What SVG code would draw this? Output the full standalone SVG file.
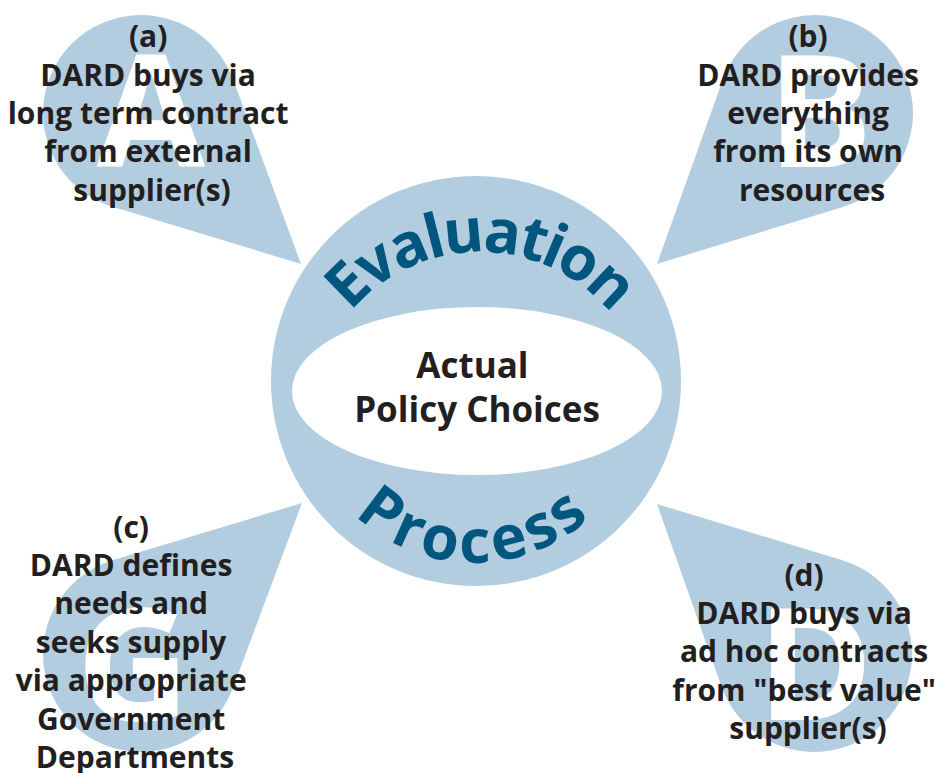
<svg xmlns="http://www.w3.org/2000/svg" width="946" height="773" viewBox="0 0 946 773">
  <style>
    .shape { fill: #b3cde0; }
    .big { font-family: "Open Sans", "Liberation Sans", sans-serif; font-weight: 700; font-size: 157px; fill: #ffffff; text-anchor: middle; }
    .lbl { font-family: "Open Sans", "Liberation Sans", sans-serif; font-weight: 700; font-size: 30px; fill: #231f20; text-anchor: middle; }
    .core { font-family: "Open Sans", "Liberation Sans", sans-serif; font-weight: 700; font-size: 35px; fill: #231f20; text-anchor: middle; }
    .ring { font-family: "Open Sans", "Liberation Sans", sans-serif; font-weight: 700; font-size: 61px; fill: #00567f; text-anchor: middle; }
  </style>
  <defs>
    <path id="arc-top" d="M310,422 A170,170 0 0 1 650,422"/>
    <path id="arc-bottom" d="M303,392 A171,171 0 0 0 645,392"/>
  </defs>

  <rect width="946" height="773" fill="#ffffff"/>

  <!-- pointers linking each option bubble to the hub -->
  <g id="connectors" class="shape">
    <polygon points="301,264 112.5,206.8 233.0,79.1"/>
    <polygon points="657,264 722.7,80.0 843.7,206.7"/>
    <polygon points="302,503 232.8,688.3 112.7,560.2"/>
    <polygon points="657,504 842.4,560.2 721.6,686.7"/>
  </g>

  <g id="option-a">
    <circle class="shape" cx="141" cy="113" r="98"/>
    <text class="big" x="151" y="167">A</text>
    <text class="lbl">
      <tspan x="152" y="47">(a)</tspan>
      <tspan x="152" y="85.5">DARD buys via</tspan>
      <tspan x="152" y="124">long term contract</tspan>
      <tspan x="152" y="162">from external</tspan>
      <tspan x="152" y="200.5">supplier(s)</tspan>
    </text>
  </g>

  <g id="option-b">
    <circle class="shape" cx="815" cy="113" r="98"/>
    <text class="big" x="820" y="167">B</text>
    <text class="lbl">
      <tspan x="812" y="47">(b)</tspan>
      <tspan x="812" y="85.5">DARD provides</tspan>
      <tspan x="812" y="124">everything</tspan>
      <tspan x="812" y="162">from its own</tspan>
      <tspan x="812" y="200.5">resources</tspan>
    </text>
  </g>

  <g id="option-c">
    <circle class="shape" cx="141" cy="654" r="98"/>
    <text class="big" x="133" y="720">G</text>
    <text class="lbl">
      <tspan x="135" y="537.5">(c)</tspan>
      <tspan x="135" y="576">DARD defines</tspan>
      <tspan x="135" y="614.3">needs and</tspan>
      <tspan x="135" y="652.7">seeks supply</tspan>
      <tspan x="135" y="691.1">via appropriate</tspan>
      <tspan x="135" y="729.5">Government</tspan>
      <tspan x="135" y="768">Departments</tspan>
    </text>
  </g>

  <g id="option-d">
    <circle class="shape" cx="814" cy="654" r="98"/>
    <text class="big" x="815" y="720">D</text>
    <text class="lbl">
      <tspan x="808" y="585.5">(d)</tspan>
      <tspan x="808" y="624">DARD buys via</tspan>
      <tspan x="808" y="662.3">ad hoc contracts</tspan>
      <tspan x="808" y="700.7">from "best value"</tspan>
      <tspan x="808" y="739.1">supplier(s)</tspan>
    </text>
  </g>

  <!-- hub: evaluation ring around the policy choices -->
  <g id="hub">
    <circle class="shape" cx="476" cy="381" r="205"/>
    <ellipse cx="477" cy="391" rx="185" ry="84" fill="#ffffff"/>
    <text class="ring" letter-spacing="-3"><textPath href="#arc-top" startOffset="50%">Evaluation</textPath></text>
    <text class="ring" letter-spacing="4.5"><textPath href="#arc-bottom" startOffset="50%">Process</textPath></text>
    <text class="core">
      <tspan x="477" y="378">Actual</tspan>
      <tspan x="477" y="422">Policy Choices</tspan>
    </text>
  </g>
</svg>
